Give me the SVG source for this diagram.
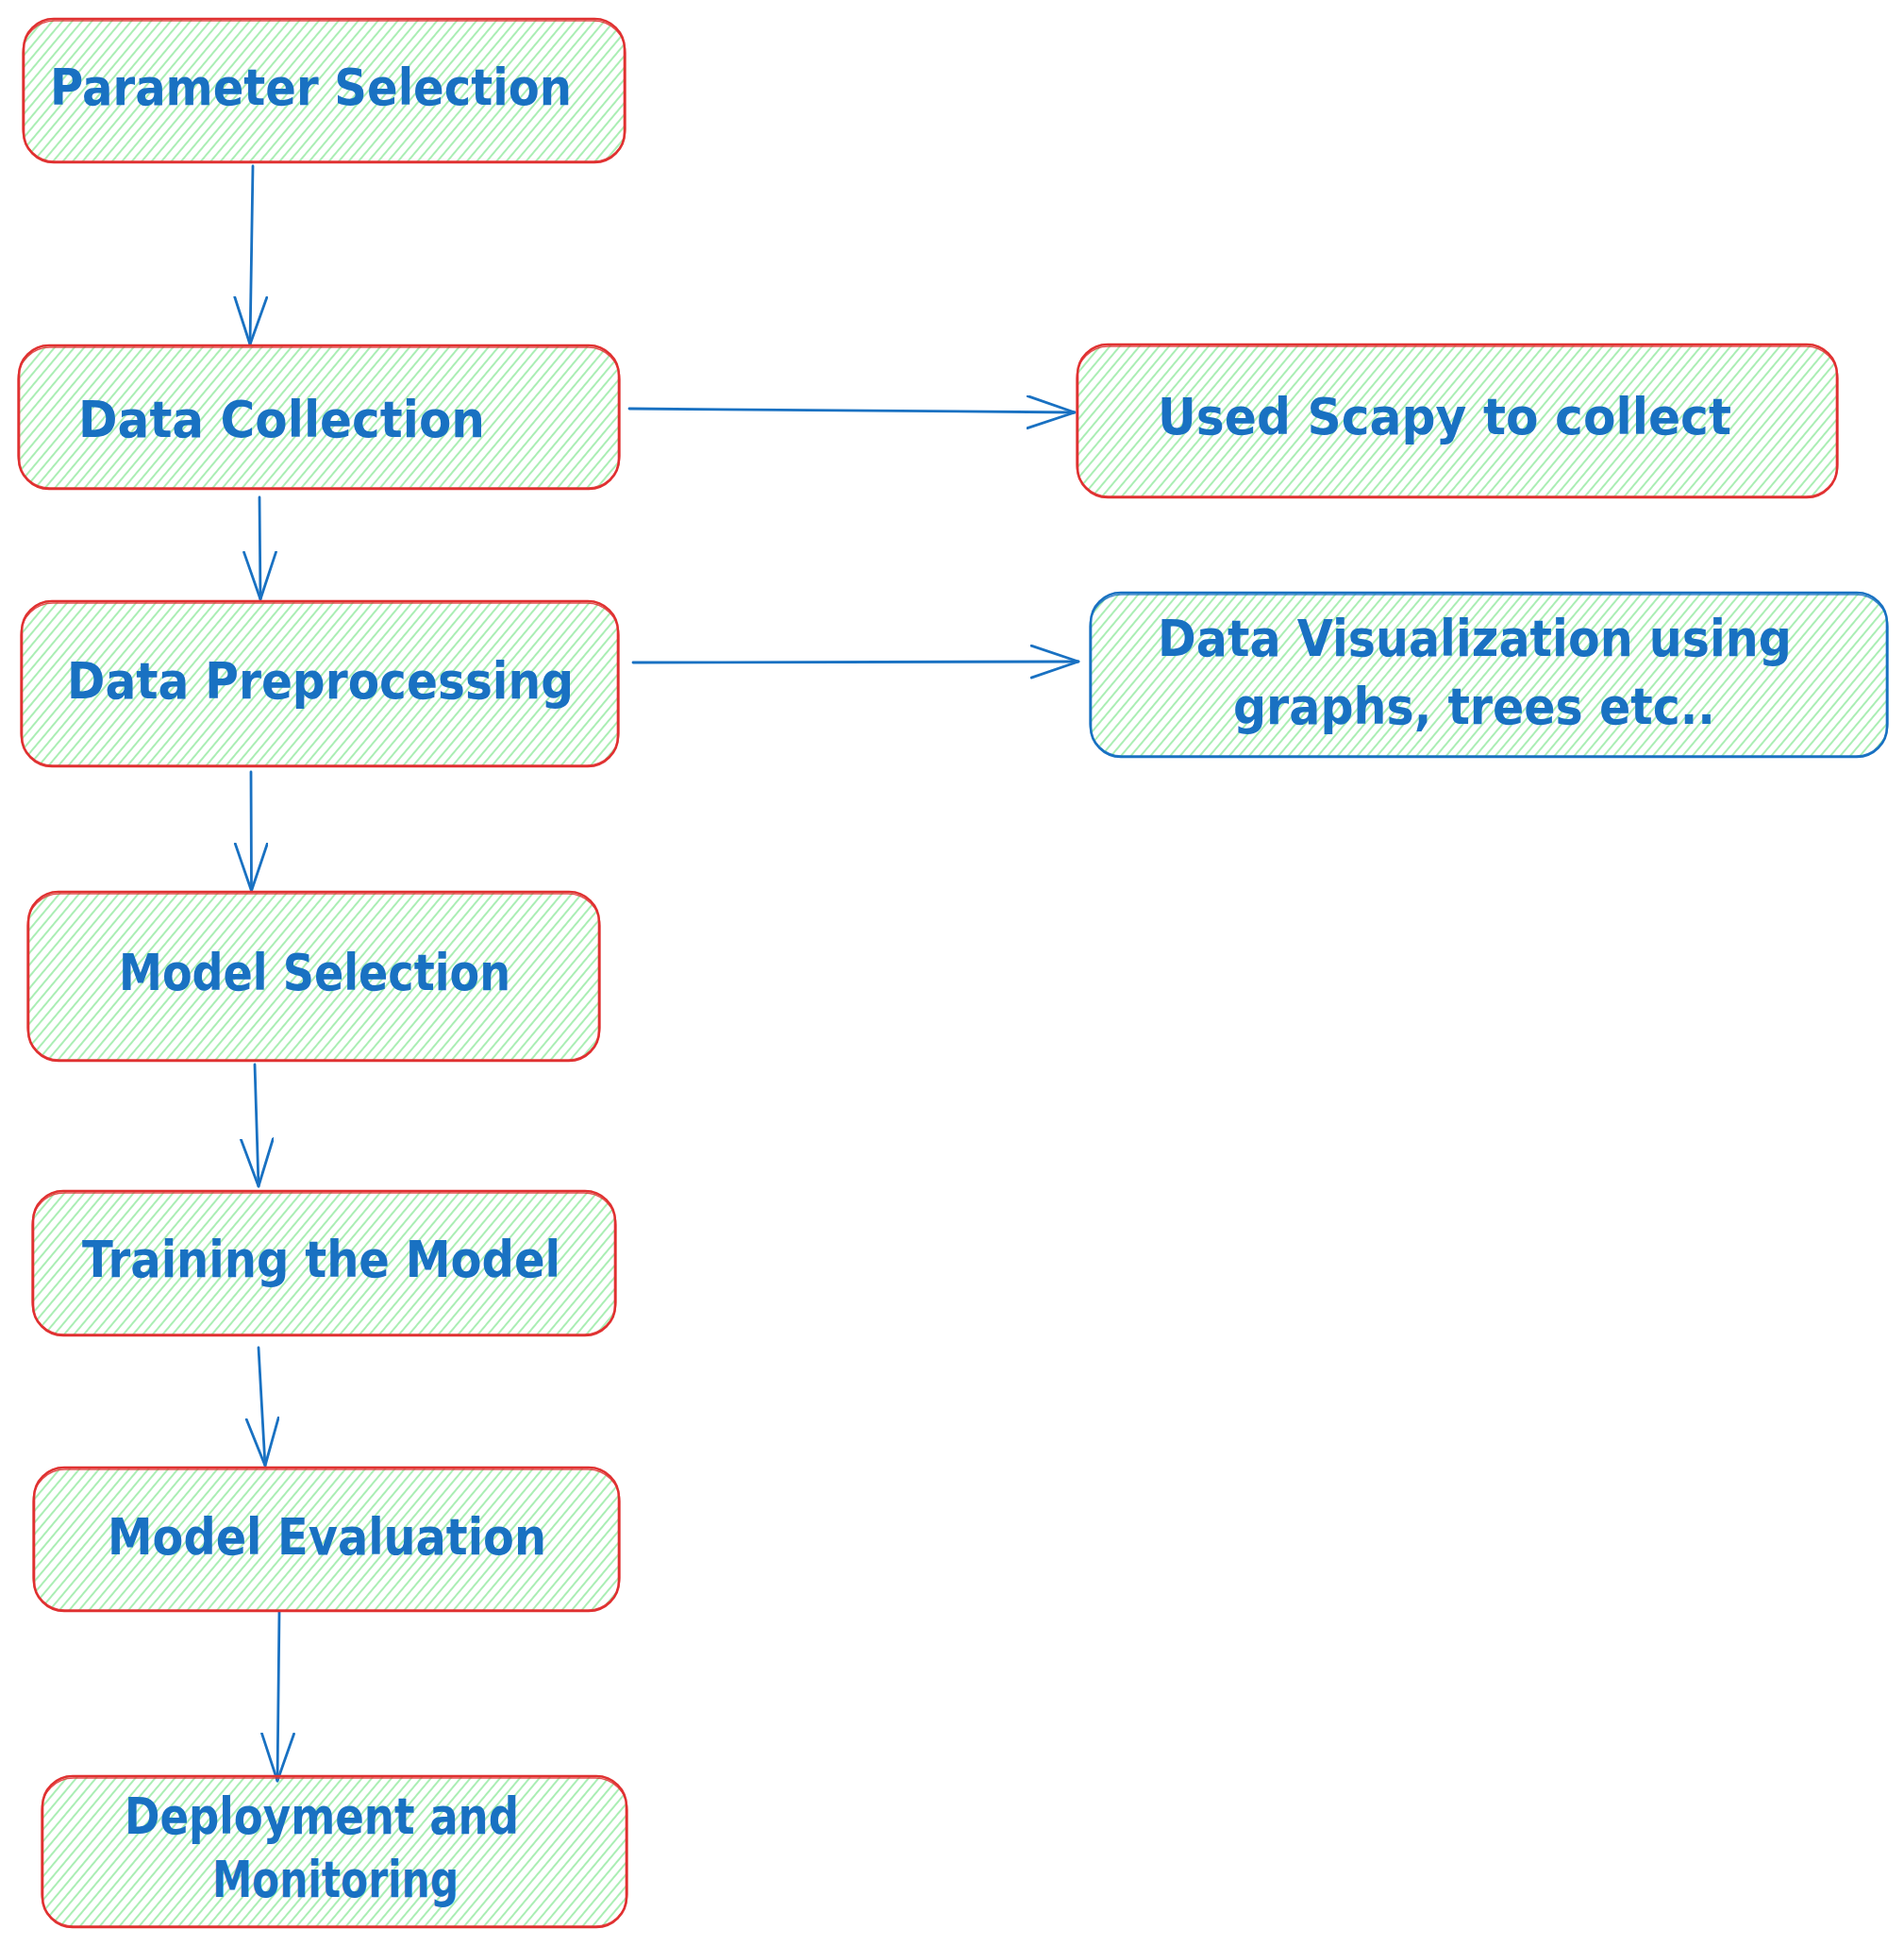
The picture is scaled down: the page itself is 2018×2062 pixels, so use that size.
<svg xmlns="http://www.w3.org/2000/svg" width="2018" height="2062" viewBox="0 0 2018 2062">
<style>
.box{fill:url(#hatch);stroke:#e03131;stroke-width:2.6}
.box2{fill:none;stroke:#e03131;stroke-width:1.3;opacity:0.85}
.bluebox{fill:url(#hatch);stroke:#1971c2;stroke-width:2.6}
.bluebox2{fill:none;stroke:#1971c2;stroke-width:1.3;opacity:0.85}
.lbl{font-family:"DejaVu Sans","Liberation Sans",sans-serif;font-size:53px;fill:#1971c2;font-weight:600}
.edge{fill:none;stroke:#1971c2;stroke-width:2.8;stroke-linecap:round;marker-end:url(#arrow)}
</style>
<defs>
<pattern id="hatch" patternUnits="userSpaceOnUse" width="8" height="8" patternTransform="rotate(40)">
<line x1="1" y1="0" x2="1" y2="8" stroke="#a6eeb0" stroke-width="1.9"/>
</pattern>
<marker id="arrow" markerUnits="userSpaceOnUse" markerWidth="60" markerHeight="44" refX="51" refY="18" orient="auto">
<path d="M1,1 L51,18 L1,35" fill="none" stroke="#1971c2" stroke-width="2.8" stroke-linecap="round" stroke-linejoin="round"/>
</marker>
</defs>
<rect width="2018" height="2062" fill="#ffffff"/>

<g id="connectors">
<path class="edge" d="M268,176 L265,365"/>
<path class="edge" d="M275,527 L276,635"/>
<path class="edge" d="M266,818 L266.5,944"/>
<path class="edge" d="M270,1128 L274,1257"/>
<path class="edge" d="M274,1428 L281,1553"/>
<path class="edge" d="M296,1708 L294,1887"/>
<path class="edge" d="M667,433 L1139,437"/>
<path class="edge" d="M671,702 L1143,701"/>
</g>

<g id="node-parameter-selection">
<rect class="box" x="25" y="20" width="637" height="152" rx="32"/>
<rect class="box2" x="24" y="22" width="639" height="149" rx="34"/>
<text class="lbl" x="53" y="111" textLength="553" lengthAdjust="spacingAndGlyphs">Parameter Selection</text>
</g>

<g id="node-data-collection">
<rect class="box" x="20" y="366" width="636" height="152" rx="32"/>
<rect class="box2" x="19" y="368" width="638" height="149" rx="34"/>
<text class="lbl" x="83" y="463" textLength="431" lengthAdjust="spacingAndGlyphs">Data Collection</text>
</g>

<g id="node-data-preprocessing">
<rect class="box" x="23" y="637" width="632" height="175" rx="32"/>
<rect class="box2" x="22" y="639" width="634" height="172" rx="34"/>
<text class="lbl" x="71" y="740" textLength="537" lengthAdjust="spacingAndGlyphs">Data Preprocessing</text>
</g>

<g id="node-model-selection">
<rect class="box" x="30" y="945" width="605" height="179" rx="32"/>
<rect class="box2" x="29" y="947" width="607" height="176" rx="34"/>
<text class="lbl" x="126" y="1049" textLength="415" lengthAdjust="spacingAndGlyphs">Model Selection</text>
</g>

<g id="node-training">
<rect class="box" x="35" y="1262" width="617" height="153" rx="32"/>
<rect class="box2" x="34" y="1264" width="619" height="150" rx="34"/>
<text class="lbl" x="87" y="1353" textLength="507" lengthAdjust="spacingAndGlyphs">Training the Model</text>
</g>

<g id="node-model-evaluation">
<rect class="box" x="36" y="1555" width="620" height="152" rx="32"/>
<rect class="box2" x="35" y="1557" width="622" height="149" rx="34"/>
<text class="lbl" x="114" y="1647" textLength="465" lengthAdjust="spacingAndGlyphs">Model Evaluation</text>
</g>

<g id="node-deployment">
<rect class="box" x="45" y="1882" width="619" height="160" rx="32"/>
<rect class="box2" x="44" y="1884" width="621" height="157" rx="34"/>
<text class="lbl" x="132" y="1943" textLength="418" lengthAdjust="spacingAndGlyphs">Deployment and</text>
<text class="lbl" x="225" y="2010" textLength="261" lengthAdjust="spacingAndGlyphs">Monitoring</text>
</g>

<g id="node-scapy">
<rect class="box" x="1142" y="365" width="805" height="162" rx="32"/>
<rect class="box2" x="1141" y="367" width="807" height="159" rx="34"/>
<text class="lbl" x="1227" y="460" textLength="608" lengthAdjust="spacingAndGlyphs">Used Scapy to collect</text>
</g>

<g id="node-visualization">
<rect class="bluebox" x="1156" y="628" width="844" height="174" rx="32"/>
<rect class="bluebox2" x="1155" y="630" width="846" height="171" rx="34"/>
<text class="lbl" x="1227" y="695" textLength="672" lengthAdjust="spacingAndGlyphs">Data Visualization using</text>
<text class="lbl" x="1307" y="767" textLength="511" lengthAdjust="spacingAndGlyphs">graphs, trees etc..</text>
</g>
</svg>
